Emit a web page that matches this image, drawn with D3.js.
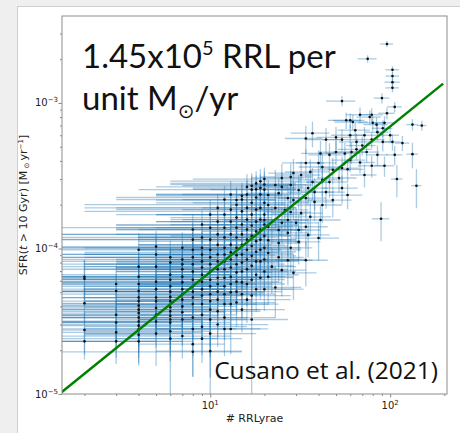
<!DOCTYPE html>
<html>
<head>
<meta charset="utf-8">
<script src="https://cdn.jsdelivr.net/npm/d3@7"></script>
<style>
  html, body { margin: 0; padding: 0; background: #efefef; }
  svg { display: block; }
</style>
</head>
<body>
<div id="chart-area"></div>
<script>
// number of RR Lyrae per field (x) and SFR(t > 10 Gyr) in units of 1e-5 Msun/yr (y)
const SFR_UNIT = 1e-5

const rrl = [
  2,2,2,2,2,
  3,3,3,3,3,3,
  4,4,4,4,4,4,4,4,4,4,4,4,4,4,4,4,
  5,5,5,5,5,5,5,5,5,5,5,
  6,6,6,6,6,6,6,6,6,6,6,6,6,6,6,
  7,7,7,7,7,7,7,7,7,7,7,7,7,
  8,8,8,8,8,8,8,8,8,8,8,8,8,8,8,
  9,9,9,9,9,9,9,9,9,9,9,9,9,9,
  10,10,10,10,10,10,10,10,10,10,10,10,10,10,10,
  11,11,11,11,11,11,11,11,11,11,11,11,11,
  12,12,12,12,12,12,12,12,12,12,12,12,12,12,
  13,13,13,13,13,13,13,13,13,13,13,13,13,
  14,14,14,14,14,14,14,14,14,14,14,14,
  15,15,15,15,15,15,15,15,15,15,15,15,
  16,16,16,16,16,16,16,16,16,16,16,
  17,17,17,17,17,17,17,17,17,17,17,17,
  18,18,18,18,18,18,18,18,18,18,18,
  19,19,19,19,19,19,19,19,19,19,
  20,20,20,20,20,20,20,20,20,20,20,
  37,34,50,44,54,60,41,46,50,56,
  61,34,40,42,48,54,29,32,36,37,
  42,46,52,23,25,28,31,35,38,44,
  48,54,21,24,27,29,34,38,42,21,
  23,26,28,32,36,41,20,22,25,27,
  30,34,40,21,24,27,31,35,21,24,
  28,31,21,24,27,34,22,25,29,21,
  23,25,28,54,68,77,57,62,80,93,
  103,103,103,103,96,75,90,106,96,133,
  150,65,79,91,103,117,65,74,68,79,
  93,109,140,58,58,89,133,60,79,84,
  91,64,72,85,100,70,106,85,60,72
]

const sfr = [
  6.4,6.2,4.2,2.75,2.3,
  5.7,5.1,3.5,3.1,2.65,2.3,
  9.8,7.5,6.4,5.7,5.1,4.6,4.35,4.05,3.8,3.6,3.35,3.15,2.95,2.8,2.55,2.3,
  10.3,9.1,7.5,5.9,5.25,4.6,4.35,3.9,3.5,3.15,2.6,
  8.7,8.0,6.6,6.1,5.5,5.05,4.65,4.35,3.95,3.7,3.45,3.25,3.1,2.7,2.4,
  10.1,8.4,7.8,7.2,6.4,5.85,5.25,4.85,4.45,4.0,3.65,3.25,2.5,
  13.5,11.5,9.8,8.7,7.8,6.95,6.1,5.5,5.05,4.6,4.15,3.35,2.8,2.2,1.95,
  14.6,11.9,10.1,9.1,8.15,7.4,6.6,5.9,5.25,4.75,4.15,3.5,2.9,2.4,
  17.1,13.9,11.5,9.8,8.7,7.8,6.95,6.1,5.5,4.85,4.35,3.8,3.25,2.6,1.97,
  19,15.3,12.5,10.6,9.1,8.15,7.2,6.3,5.7,5.05,4.45,3.7,3.0,
  21.7,17.1,13.9,11.9,10.1,9.1,8.15,7.2,6.3,5.5,4.85,4.15,3.35,2.8,
  23.5,18.5,15.3,12.5,10.6,9.4,8.4,7.4,6.4,5.7,5.0,4.15,2.8,
  21.5,20,16.3,13.9,11.9,10.1,9.0,7.8,6.85,5.9,5.05,4.25,
  23,21.7,18,14.6,12.5,10.6,9.1,8.0,6.95,5.85,4.85,3.8,
  26.5,23.5,19,15.8,13.5,11.5,9.8,8.4,7.2,5.7,4.45,
  27,25.4,20.6,17.1,14.4,12.2,10.4,8.9,7.6,6.1,4.75,3.25,
  28,25.5,22.4,18.5,15.3,13.1,11.2,9.5,8.15,6.6,5.25,
  29,26,23.5,19,15.8,13.5,11.5,9.8,8.15,6.3,
  30,27.5,25.4,20.6,17.1,14.6,12.2,10.1,8.4,6.95,5.25,
  62,57,58,56,56,60,45,44,46,45,
  46,38.7,38.7,36.3,34.7,35.7,33,32,33.6,28.6,
  29.6,28.6,30.5,27.3,26.5,27.3,25.2,26,24.4,24.4,
  21.5,26,23.3,24,22.2,21.5,22.2,20.9,19.9,19.9,
  19,18.4,17.8,17.5,16.5,15.7,15.7,15.2,15,15.7,
  15,14.1,11.8,14.1,13.4,12.8,13.4,12.4,11.4,10.9,
  10.1,11.1,9.3,8.7,8.3,8.3,7.5,7.1,6.8,6.4,
  5.4,30.5,31,103,83,80,76,74,73,73,
  169,153,139,127,254,201,108,94,85,71,
  70,54,56,54,54,53,48,46,39,37,
  37,30,27,35,23.3,16,44.5,76,83,71,
  67,65,60,63,60,51,44,44,40.5,32
]

// uncertainty on the RRL count (absolute) and on the SFR (percent)
const rrlErr = [
  3,6,2,4,5,
  4,2,5,3,6,2,
  5,3,4,6,3,5,2,4,6,3,5,4,3,6,2,4,
  4,6,3,5,7,4,3,6,5,4,3,
  5,3,7,4,6,5,3,8,4,6,5,3,7,4,5,
  6,4,7,5,3,8,5,6,4,7,5,3,6,
  5,7,4,8,6,5,9,4,7,6,5,8,6,4,7,
  6,8,5,7,9,6,5,8,7,6,9,5,7,6,
  7,5,9,6,8,7,5,10,6,8,7,9,6,8,5,
  8,6,10,7,9,6,8,11,7,9,6,8,10,
  9,7,11,8,10,6,9,12,7,10,8,9,11,7,
  8,10,7,12,9,11,8,10,13,9,7,11,8,
  9,12,8,11,10,13,9,12,8,10,11,9,
  10,8,13,9,12,11,14,9,12,10,8,11,
  11,9,14,10,13,12,9,15,11,10,12,
  10,13,9,12,14,11,10,13,12,9,11,10,
  12,10,15,11,13,9,14,12,10,13,11,
  13,11,14,10,12,15,11,13,12,10,
  12,14,10,15,13,11,16,12,14,10,13,
  9,8,11,10,12,13,9,11,10,12,
  13,9,10,11,12,13,8,9,10,9,
  11,12,13,7,8,9,8,10,11,12,
  13,12,7,8,9,8,10,11,12,8,
  7,9,8,10,11,12,8,7,9,8,
  10,11,12,8,9,8,10,11,9,8,
  9,10,8,9,10,11,8,9,10,8,
  9,8,9,10,11,12,12,13,14,13,
  9,9,10,9,8,9,9,10,10,10,
  9,13,14,13,12,11,14,13,14,13,
  12,8,9,13,12,10,10,12,12,13,
  12,13,14,13,12,13,11,12,13,12
]

const sfrErrPct = [
  30,35,28,32,25,
  35,30,40,28,33,30,
  30,25,35,28,40,30,26,35,30,38,27,33,40,30,36,32,
  28,35,30,33,27,38,30,35,29,34,40,
  30,26,34,28,36,30,110,32,27,35,30,38,29,33,30,
  28,32,30,26,35,29,33,27,36,30,31,34,30,
  27,30,33,28,35,30,26,34,29,32,36,30,35,40,33,
  25,30,28,33,27,31,35,29,32,28,34,30,36,32,
  26,30,28,32,27,34,29,31,105,28,33,30,35,31,34,
  25,29,27,31,26,33,28,30,27,32,29,34,30,
  24,28,26,30,27,32,25,29,31,27,33,28,30,35,
  24,27,30,26,29,25,31,28,27,32,29,30,33,
  23,27,25,29,26,30,24,28,31,27,30,32,
  23,26,28,25,29,27,24,30,26,28,31,30,
  22,25,27,24,28,26,29,25,27,30,31,
  22,25,24,27,26,28,23,29,26,30,28,110,
  21,24,26,23,27,25,28,24,27,29,30,
  21,24,23,26,25,27,24,28,26,29,
  20,23,25,22,26,24,27,23,26,28,29,
  20,22,18,20,17,18,22,20,19,18,
  17,24,22,23,21,20,25,24,22,25,
  23,22,21,27,26,25,26,24,25,23,
  24,22,28,27,26,27,25,26,25,28,
  29,27,28,27,26,27,30,29,28,29,
  28,27,30,30,29,31,29,30,31,32,
  31,30,33,32,33,34,35,34,35,36,
  38,25,24,8,12,11,13,12,12,11,
  6,6,7,7,5,6,8,8,9,9,
  8,14,13,14,13,12,15,15,16,17,
  16,25,30,18,20,30,20,12,11,12,
  13,13,14,13,12,15,15,16,17,18
]

// fitted relation: 1.45e5 RRL per unit Msun/yr
const RRL_PER_SFR = 1.45e5
const fitRrl = [1.4, 197]

const xMajor = [10, 100]
const xMajorExp = ["1", "2"]
const xMinor = [2, 3, 4, 5, 6, 7, 8, 9, 20, 30, 40, 50, 60, 70, 80, 90, 200]
const yMajor = [1e-5, 1e-4, 1e-3]
const yMajorExp = ["\u22125", "\u22124", "\u22123"]
const yMinor = [2e-5, 3e-5, 4e-5, 5e-5, 6e-5, 7e-5, 8e-5, 9e-5,
  2e-4, 3e-4, 4e-4, 5e-4, 6e-4, 7e-4, 8e-4, 9e-4, 2e-3, 3e-3]

if (new Set([rrl.length, sfr.length, rrlErr.length, sfrErrPct.length]).size !== 1) {
  throw new Error(`length mismatch ${rrl.length} ${sfr.length} ${rrlErr.length} ${sfrErrPct.length}`)
}

const W = 460, H = 433
const MARGIN = { LEFT: 62, RIGHT: 13, TOP: 16, BOTTOM: 39 }
const WIDTH = W - MARGIN.LEFT - MARGIN.RIGHT
const HEIGHT = H - MARGIN.TOP - MARGIN.BOTTOM

const svg = d3.select("#chart-area").append("svg")
  .attr("width", W)
  .attr("height", H)

svg.append("rect")
  .attr("width", W).attr("height", H)
  .attr("fill", "#efefef")

// white slide panel
svg.append("rect")
  .attr("x", 17.5).attr("y", 6.5)
  .attr("width", W).attr("height", H)
  .attr("fill", "#fff")
  .attr("stroke", "#cfcfcf")

const g = svg.append("g")
  .attr("transform", `translate(${MARGIN.LEFT}, ${MARGIN.TOP})`)

g.append("clipPath").attr("id", "plot-clip")
  .append("rect").attr("width", WIDTH).attr("height", HEIGHT)

const x = d3.scaleLog()
  .domain([1.5, 207])
  .range([0, WIDTH])

const y = d3.scaleLog()
  .domain([1e-5, 3.96e-3])
  .range([HEIGHT, 0])

const points = rrl.map((n, i) => {
  const s = sfr[i] * SFR_UNIT
  return { n, s, dn: rrlErr[i], ds: s * sfrErrPct[i] / 100 }
})

const plot = g.append("g").attr("clip-path", "url(#plot-clip)")

// error bars
const bars = plot.append("g")
  .attr("stroke", "#1f77b4")
  .attr("stroke-opacity", 0.38)
  .attr("stroke-width", 1.3)

bars.selectAll("line.xerr")
  .data(points)
  .enter().append("line")
  .attr("class", "xerr")
  .attr("x1", d => x(Math.max(d.n - d.dn, 0.1)))
  .attr("x2", d => x(d.n + d.dn))
  .attr("y1", d => y(d.s))
  .attr("y2", d => y(d.s))

bars.selectAll("line.yerr")
  .data(points)
  .enter().append("line")
  .attr("class", "yerr")
  .attr("x1", d => x(d.n))
  .attr("x2", d => x(d.n))
  .attr("y1", d => y(Math.max(d.s - d.ds, 1e-8)))
  .attr("y2", d => y(d.s + d.ds))

plot.append("g").selectAll("circle")
  .data(points)
  .enter().append("circle")
  .attr("cx", d => x(d.n))
  .attr("cy", d => y(d.s))
  .attr("r", 1.3)
  .attr("fill", "#111")

const fitLine = d3.line()
  .x(n => x(n))
  .y(n => y(n / RRL_PER_SFR))

plot.append("path")
  .datum(fitRrl)
  .attr("d", fitLine)
  .attr("fill", "none")
  .attr("stroke", "#008000")
  .attr("stroke-width", 2.5)

// frame
g.append("rect")
  .attr("width", WIDTH).attr("height", HEIGHT)
  .attr("fill", "none")
  .attr("stroke", "#8c8c8c")
  .attr("stroke-width", 1)

// axes
const styleAxis = sel => {
  sel.select(".domain").remove()
  sel.selectAll("line").attr("stroke", "#8c8c8c")
}

g.append("g")
  .attr("transform", `translate(0, ${HEIGHT})`)
  .call(d3.axisBottom(x).tickValues(xMinor).tickSize(2).tickFormat(""))
  .call(styleAxis)

g.append("g")
  .attr("transform", `translate(0, ${HEIGHT})`)
  .call(d3.axisBottom(x).tickValues(xMajor).tickSize(3.5).tickFormat(""))
  .call(styleAxis)

g.append("g")
  .call(d3.axisLeft(y).tickValues(yMinor).tickSize(2).tickFormat(""))
  .call(styleAxis)

g.append("g")
  .call(d3.axisLeft(y).tickValues(yMajor).tickSize(3.5).tickFormat(""))
  .call(styleAxis)

const FONT = "'DejaVu Sans', sans-serif"

xMajor.forEach((v, i) => {
  const t = g.append("text")
    .attr("x", x(v))
    .attr("y", HEIGHT + 15)
    .attr("text-anchor", "middle")
    .attr("font-family", FONT)
    .attr("font-size", "10px")
    .attr("fill", "#222")
  t.append("tspan").text("10")
  t.append("tspan").attr("dy", -4).attr("font-size", "7px").text(xMajorExp[i])
})

yMajor.forEach((v, i) => {
  const t = g.append("text")
    .attr("x", -4)
    .attr("y", y(v) + 3.5)
    .attr("text-anchor", "end")
    .attr("font-family", FONT)
    .attr("font-size", "10px")
    .attr("fill", "#222")
  t.append("tspan").text("10")
  t.append("tspan").attr("dy", -4).attr("font-size", "7px").text(yMajorExp[i])
})

// X label
g.append("text")
  .attr("x", WIDTH / 2)
  .attr("y", HEIGHT + 28)
  .attr("text-anchor", "middle")
  .attr("font-family", FONT)
  .attr("font-size", "11px")
  .attr("fill", "#222")
  .text("# RRLyrae")

// Y label
const yl = g.append("text")
  .attr("transform", `translate(-35, ${HEIGHT / 2}) rotate(-90)`)
  .attr("text-anchor", "middle")
  .attr("font-family", FONT)
  .attr("font-size", "11px")
  .attr("fill", "#222")
yl.append("tspan").text("SFR(")
yl.append("tspan").attr("font-style", "italic").text("t")
yl.append("tspan").text(" > 10 Gyr) [M")
yl.append("tspan").attr("font-size", "7px").attr("dy", 2).text(" \u2299 ")
yl.append("tspan").attr("dy", -2).text(" yr")
yl.append("tspan").attr("font-size", "7px").attr("dy", -4).text("\u22121")
yl.append("tspan").attr("dy", 4).text("]")

// annotations
const big = svg.append("text")
  .attr("x", 82).attr("y", 68)
  .attr("font-family", "Lato, sans-serif")
  .attr("font-size", "33px")
  .attr("fill", "#111")
big.append("tspan").text("1.45x10")
big.append("tspan").attr("dy", -13).attr("font-size", "20px").text("5")
big.append("tspan").attr("dy", 13).text(" RRL per")

const big2 = svg.append("text")
  .attr("x", 82).attr("y", 110)
  .attr("font-family", "Lato, sans-serif")
  .attr("font-size", "33px")
  .attr("fill", "#111")
big2.append("tspan").text("unit M")
big2.append("tspan").attr("dy", 8).attr("font-size", "20px")
  .attr("font-family", "'DejaVu Sans', sans-serif").text("\u2299")
big2.append("tspan").attr("dy", -8).text("/yr")

svg.append("text")
  .attr("x", 438).attr("y", 379)
  .attr("text-anchor", "end")
  .attr("font-family", "'Open Sans', sans-serif")
  .attr("font-size", "24.5px")
  .attr("fill", "#111")
  .text("Cusano et al. (2021)")
</script>
</body>
</html>
